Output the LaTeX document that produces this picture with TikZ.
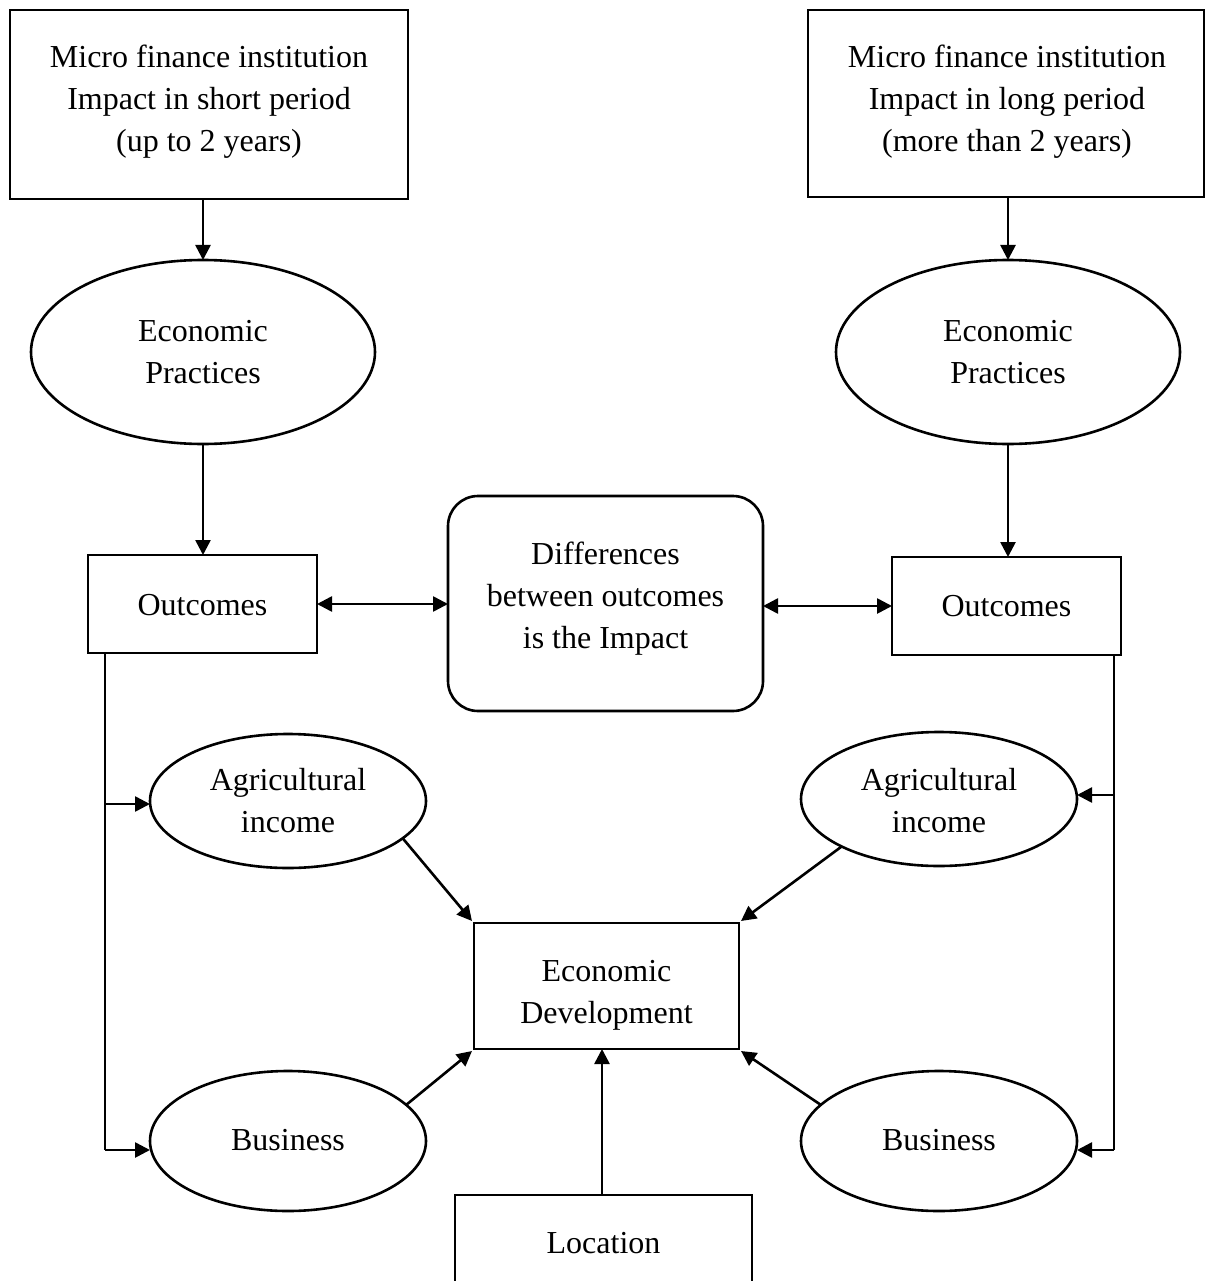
\documentclass[tikz,border=0pt]{standalone}
\usepackage{fontspec}
\setmainfont{Liberation Serif}
\usetikzlibrary{arrows.meta,shapes.geometric}
\begin{document}
\begin{tikzpicture}[x=1pt,y=-1pt,
  every node/.style={inner sep=0pt, outer sep=0pt},
  txt/.style={align=center, font=\fontsize{32}{42}\selectfont},
  boxshape/.style={draw, line width=2.6pt, rectangle},
  ellshape/.style={draw, line width=2.6pt, ellipse},
  roundshape/.style={draw, line width=2.6pt, rectangle, rounded corners=30pt},
  ln/.style={line width=2.6pt},
  arr/.style={line width=2.6pt, -{Triangle[length=15pt,width=15pt]}},
  darr/.style={line width=2.6pt, {Triangle[length=15pt,width=15pt]}-{Triangle[length=15pt,width=15pt]}}
]
\useasboundingbox (0,0) rectangle (1206,1281);
\fill[white] (0,0) rectangle (1206,1281);

% top boxes
\node[boxshape, minimum width=398pt, minimum height=189pt] (tl) at (209,104.5) {};
\node[txt] (tlt) at (209,102) {Micro finance institution\\Impact in short period\\(up to 2 years)};
\node[boxshape, minimum width=396pt, minimum height=187pt] (tr) at (1006,103.5) {};
\node[txt] (trt) at (1007,102) {Micro finance institution\\Impact in long period\\(more than 2 years)};

% economic practices
\node[ellshape, minimum width=344pt, minimum height=184pt] (epl) at (203,352) {};
\node[txt] (eplt) at (203,352) {Economic\\Practices};
\node[ellshape, minimum width=344pt, minimum height=184pt] (epr) at (1008,352) {};
\node[txt] (eprt) at (1008,352) {Economic\\Practices};

% outcomes
\node[boxshape, minimum width=229pt, minimum height=98pt] (ol) at (202.5,604) {};
\node[txt] (olt) at (202.5,605) {Outcomes};
\node[boxshape, minimum width=229pt, minimum height=98pt] (or) at (1006.5,606) {};
\node[txt] (ort) at (1006.5,606) {Outcomes};

% differences
\node[roundshape, minimum width=315pt, minimum height=215pt] (dif) at (605.5,603.5) {};
\node[txt] (dift) at (605.5,599) {Differences\\between outcomes\\is the Impact};

% agricultural / business
\node[ellshape, minimum width=276pt, minimum height=134pt] (agl) at (288,801) {};
\node[txt] (aglt) at (288,800.5) {Agricultural\\income};
\node[ellshape, minimum width=276pt, minimum height=134pt] (agr) at (939,799) {};
\node[txt] (agrt) at (939,800.5) {Agricultural\\income};
\node[ellshape, minimum width=276pt, minimum height=140pt] (bul) at (288,1141) {};
\node[txt] (bult) at (288,1140.5) {Business};
\node[ellshape, minimum width=276pt, minimum height=140pt] (bur) at (939,1141) {};
\node[txt] (burt) at (939,1140.5) {Business};

% economic development
\node[boxshape, minimum width=265pt, minimum height=126pt] (ed) at (606.5,986) {};
\node[txt] (edt) at (606.5,995) {Economic\\Development};

% location (box runs off the bottom edge)
\coordinate (locsw) at (455,1300);
\coordinate (locnw) at (455,1195);
\coordinate (locne) at (752,1195);
\coordinate (locse) at (752,1300);
\coordinate (loctop) at (602,1195);
\node[txt] (loc) at (603.5,1243) {Location};
\draw[ln] (locsw) -- (locnw) -- (locne) -- (locse);

% arrows
\draw[arr] (tl.south -| epl.north) -- (epl.north);
\draw[arr] (tr.south -| epr.north) -- (epr.north);
\draw[arr] (epl.south) -- (epl.south |- ol.north);
\draw[arr] (epr.south) -- (epr.south |- or.north);
\draw[darr] (ol.east) -- (dif.west |- ol.east);
\draw[darr] (dif.east |- or.west) -- (or.west);

\coordinate (lt) at (105,653);
\coordinate (la) at (105,804);
\coordinate (lb) at (105,1150);
\draw[ln] (lt) -- (lb);
\draw[arr] (la) -- (la -| agl.west);
\draw[arr] (lb) -- (bul.west |- lb);

\coordinate (rt) at (1114,655);
\coordinate (ra) at (1114,795);
\coordinate (rb) at (1114,1150);
\draw[ln] (rt) -- (rb);
\draw[arr] (ra) -- (ra -| agr.east);
\draw[arr] (rb) -- (bur.east |- rb);

\draw[arr] (agl.-18) -- ([shift={(-2,-2)}]ed.north west);
\draw[arr] (agr.-154) -- ([shift={(2,-2)}]ed.north east);
\draw[arr] (bul.17) -- ([shift={(-2,2)}]ed.south west);
\draw[arr] (bur.163) -- ([shift={(2,2)}]ed.south east);
\draw[arr] (loctop) -- (loctop |- ed.south);
\end{tikzpicture}
\end{document}
